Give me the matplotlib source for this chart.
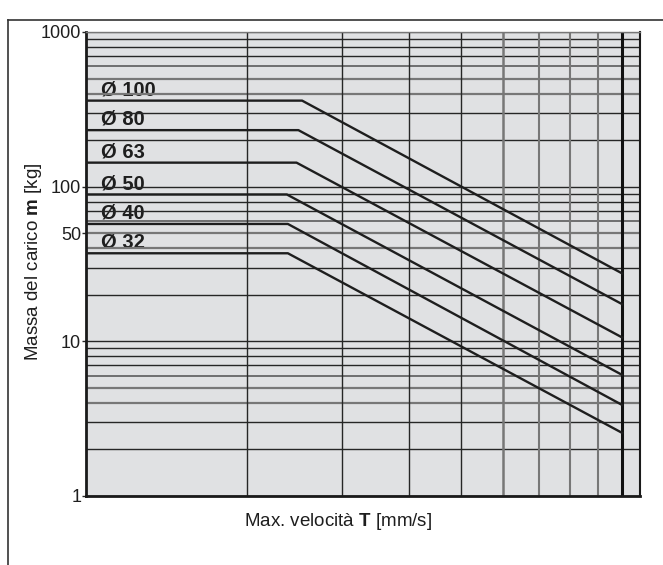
import numpy as np
import matplotlib.pyplot as plt
from matplotlib.lines import Line2D

plt.rcParams['font.family'] = ['Liberation Sans', 'DejaVu Sans']
plt.rcParams['mathtext.fontset'] = 'custom'
plt.rcParams['mathtext.rm'] = 'Liberation Sans'
plt.rcParams['mathtext.bf'] = 'Liberation Sans:bold'

# Curve data: speed [mm/s] vs max load mass [kg] per bore size
etichette = ['Ø 100', 'Ø 80', 'Ø 63', 'Ø 50', 'Ø 40', 'Ø 32']
vel = [
    [100, 253, 1000],
    [100, 249, 1000],
    [100, 247, 1000],
    [100, 237, 1000],
    [100, 238, 1000],
    [100, 238, 1000],
]
massa = [
    [360, 360, 27.5],
    [232, 232, 17.4],
    [143, 143, 10.6],
    [89, 89, 6.07],
    [57.4, 57.4, 3.88],
    [37.1, 37.1, 2.56],
]
y_ticks = [1, 10, 50, 100, 1000]
y_ticklabels = ['1', '10', '50', '100', '1000']

fig = plt.figure(figsize=(6.63, 5.65), dpi=100)
ax = fig.add_axes([86/663, 1-496/565, (640-86)/663, (496-32)/565])
ax.set_xscale('log')
ax.set_yscale('log')
ax.set_xlim(100, 1080)
ax.set_ylim(1, 1000)
ax.set_facecolor('#e0e1e3')

scuro = '#262626'
grigio = '#777777'

# horizontal grid
for dec in [1, 10, 100]:
    for k in range(1, 10):
        v = dec * k
        if k in (4, 5):
            c, lw = grigio, 1.6
        elif k == 6:
            c, lw = '#505050', 1.1
        else:
            c, lw = scuro, 1.0
        ax.axhline(v, color=c, lw=lw, zorder=2)
ax.axhline(1000, color=grigio, lw=1.0, zorder=2)

# vertical grid
for k in range(2, 10):
    if k <= 5:
        c, lw = scuro, 1.0
    elif k == 6:
        c, lw = grigio, 1.8
    else:
        c, lw = grigio, 1.5
    ax.axvline(100 * k, color=c, lw=lw, zorder=2)
ax.axvline(1000, color='#111111', lw=2.2, zorder=2)

for x, y, lab in zip(vel, massa, etichette):
    ax.plot(x, y, color='#1e1e1e', lw=1.7, zorder=3, solid_joinstyle='round')
    ax.annotate(lab, xy=(106.5, y[0]), xytext=(0, 3.8), textcoords='offset points',
                ha='left', va='baseline', fontsize=14.5, fontweight='bold',
                color='#1e1e1e', zorder=1.5)

ax.set_xticks([])
ax.set_xticks([], minor=True)
ax.set_yticks(y_ticks)
ax.set_yticklabels(y_ticklabels, fontsize=13, color='#1e1e1e')
ax.set_yticks([], minor=True)
ax.tick_params(axis='y', length=3, width=1, color=scuro, pad=0.5)

for s in ['left', 'bottom']:
    ax.spines[s].set_linewidth(2.0)
    ax.spines[s].set_color('#1a1a1a')
ax.spines['right'].set_linewidth(1.5)
ax.spines['right'].set_color('#1a1a1a')
ax.spines['top'].set_linewidth(1.0)
ax.spines['top'].set_color(grigio)

fig.text(34/663, 1-262/565, r'Massa del carico $\mathbf{m}$ [kg]', rotation=90,
         ha='center', va='center', fontsize=13.5, color='#1e1e1e')
fig.text(338/663, 1-522/565, r'Max. velocità $\mathbf{T}$ [mm/s]',
         ha='center', va='center', fontsize=13.5, color='#1e1e1e')

# outer frame
fig.add_artist(Line2D([8/663, 8/663], [0, 1-20/565], color='#333333', lw=1.2))
fig.add_artist(Line2D([8/663, 1], [1-20/565, 1-20/565], color='#333333', lw=1.2))

fig.savefig('out.png', dpi=100)
